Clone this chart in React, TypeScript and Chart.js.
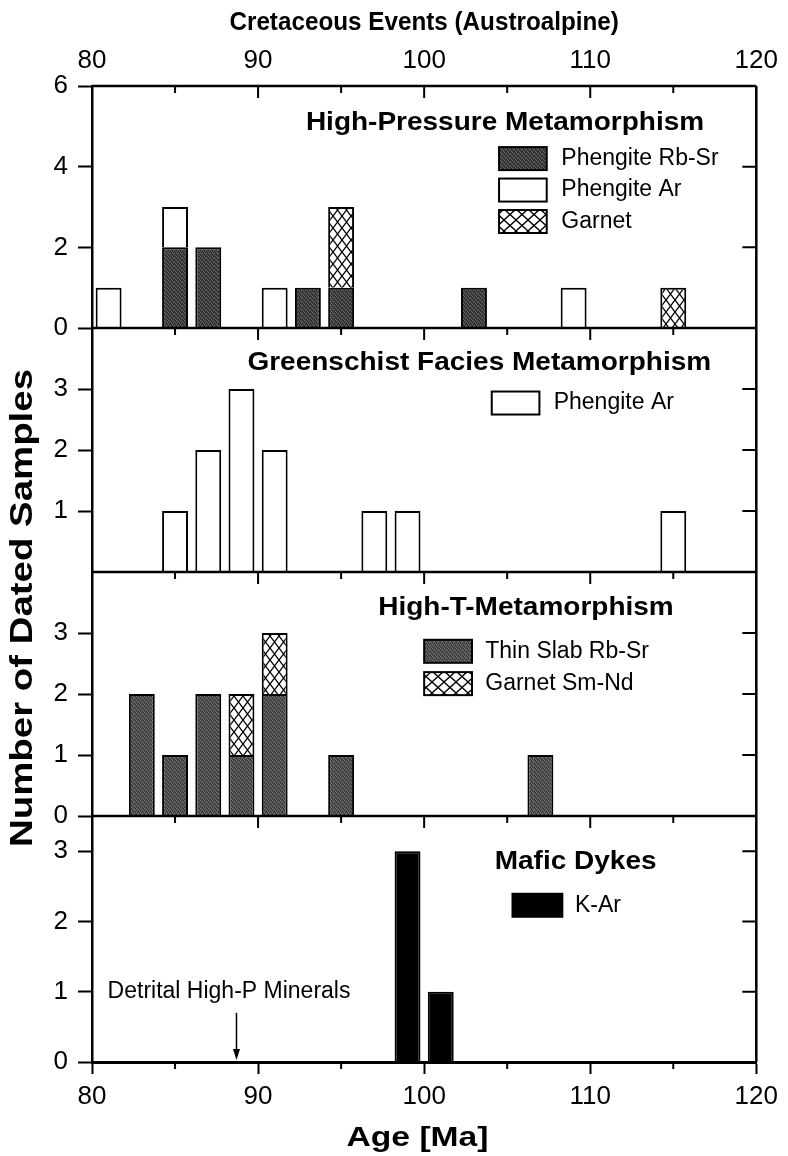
import React, { useEffect, useRef } from 'react';
import { Chart, registerables } from 'chart.js';

Chart.register(...registerables);

// ---------- data ----------
const X_TICKS = [80, 90, 100, 110, 120];

// Panel 1: High-Pressure Metamorphism
const HP_RBSR_AGES = [85, 87, 93, 95, 103];
const HP_RBSR_COUNTS = [2, 2, 1, 1, 1];
const HP_AR_AGES = [81, 85, 91, 109];
const HP_AR_COUNTS = [1, 1, 1, 1];
const HP_GRT_AGES = [95, 115];
const HP_GRT_COUNTS = [2, 1];

// Panel 2: Greenschist Facies Metamorphism
const GS_AR_AGES = [85, 87, 89, 91, 97, 99, 115];
const GS_AR_COUNTS = [1, 2, 3, 2, 1, 1, 1];

// Panel 3: High-T-Metamorphism
const HT_RBSR_AGES = [83, 85, 87, 89, 91, 95, 107];
const HT_RBSR_COUNTS = [2, 1, 2, 1, 2, 1, 1];
const HT_GRT_AGES = [89, 91];
const HT_GRT_COUNTS = [1, 1];

// Panel 4: Mafic Dykes
const MD_KAR_AGES = [99, 101];
const MD_KAR_COUNTS = [3, 1];

const DETRITAL_AGE = 88.7;

const Y1_TICKS = [0, 2, 4, 6];
const Y2_TICKS = [1, 2, 3];
const Y3_TICKS = [0, 1, 2, 3];
const Y4_TICKS = [0, 1, 2, 3];

const FONT = "'Liberation Sans', Arial, Helvetica, sans-serif";

const pts = (ages: number[], counts: number[]) => ages.map((a, i) => ({ x: a, y: counts[i] }));

function makeGrain(ctx: CanvasRenderingContext2D, base: string, light: string, dark: string) {
  const c = document.createElement('canvas');
  c.width = 4; c.height = 4;
  const g = c.getContext('2d')!;
  g.fillStyle = base; g.fillRect(0, 0, 4, 4);
  g.fillStyle = light;
  [[0, 0], [2, 1], [1, 2], [3, 3]].forEach(([x, y]) => g.fillRect(x, y, 1, 1));
  g.fillStyle = dark;
  [[2, 3], [0, 2], [3, 0]].forEach(([x, y]) => g.fillRect(x, y, 1, 1));
  return ctx.createPattern(c, 'repeat')!;
}

function makeHatch(ctx: CanvasRenderingContext2D, w: number, h: number) {
  const c = document.createElement('canvas');
  c.width = w; c.height = h;
  const g = c.getContext('2d')!;
  g.fillStyle = '#fff'; g.fillRect(0, 0, w, h);
  g.strokeStyle = '#000'; g.lineWidth = 1.3;
  g.beginPath();
  g.moveTo(-w * 0.2, -h * 0.2); g.lineTo(w * 1.2, h * 1.2);
  g.moveTo(w * 1.2, -h * 0.2); g.lineTo(-w * 0.2, h * 1.2);
  g.stroke();
  return ctx.createPattern(c, 'repeat')!;
}

function sText(ctx: CanvasRenderingContext2D, text: string, x: number, y: number, font: string,
  sx = 1, align: CanvasTextAlign = 'center', rot = 0) {
  ctx.save();
  ctx.translate(x, y);
  if (rot) ctx.rotate(rot);
  ctx.scale(sx, 1);
  ctx.font = font;
  ctx.textAlign = align;
  ctx.textBaseline = 'middle';
  ctx.fillStyle = '#000';
  ctx.fillText(text, 0, 0);
  ctx.restore();
}

export default function App() {
  const ref = useRef<HTMLCanvasElement>(null);

  useEffect(() => {
    const canvas = ref.current!;
    const ctx = canvas.getContext('2d')!;
    const grainDark = makeGrain(ctx, '#3c3c3c', '#6a6a6a', '#222');
    const grainMid = makeGrain(ctx, '#4c4c4c', '#767676', '#2e2e2e');
    const hatch = makeHatch(ctx, 9, 12);
    const hatchLeg = makeHatch(ctx, 12, 11);

    const barBase = {
      borderColor: '#000',
      borderWidth: 2,
      barPercentage: 0.78,
      categoryPercentage: 1,
      xAxisID: 'x',
    };

    const yAxis = (min: number, max: number, ticks: number[], weight: number, sw: number) => ({
      type: 'linear' as const,
      position: 'left' as const,
      stack: 'panels',
      stackWeight: sw,
      weight,
      stacked: true,
      min, max,
      afterBuildTicks: (s: any) => { s.ticks = ticks.map(v => ({ value: v })); },
      afterFit: (s: any) => { s.width = 92; },
      grid: { drawOnChartArea: false, drawTicks: true, tickLength: 14, tickWidth: 2, tickColor: '#000', color: '#000' },
      border: { display: true, color: '#000', width: 2.5 },
      ticks: { font: { family: FONT, size: 26 }, color: '#000', padding: 10 },
    });

    const annot = {
      id: 'annot',
      afterDraw(chart: any) {
        const c: CanvasRenderingContext2D = chart.ctx;
        const xs = chart.scales.x;
        const area = chart.chartArea;
        const Y = [chart.scales.y1, chart.scales.y2, chart.scales.y3, chart.scales.y4];
        const X = (v: number) => xs.getPixelForValue(v);
        c.save();
        c.strokeStyle = '#000';
        c.lineWidth = 2.5;
        c.beginPath();
        c.moveTo(area.left, area.top); c.lineTo(area.right, area.top);
        c.moveTo(area.right, area.top); c.lineTo(area.right, area.bottom);
        for (const ys of Y.slice(1)) { c.moveTo(area.left, ys.top); c.lineTo(area.right, ys.top); }
        c.stroke();

        c.lineWidth = 2;
        c.beginPath();
        for (const ys of Y) {
          for (let v = 85; v < 120; v += 5) {
            const len = v % 10 === 0 ? 12 : 7;
            c.moveTo(X(v), ys.top); c.lineTo(X(v), ys.top + len);
          }
          for (const t of ys.ticks) {
            if (t.value <= ys.min || t.value >= ys.max) continue;
            const py = ys.getPixelForValue(t.value);
            c.moveTo(area.right, py); c.lineTo(area.right - 14, py);
          }
        }
        for (let v = 85; v < 120; v += 10) { c.moveTo(X(v), area.bottom); c.lineTo(X(v), area.bottom + 7); }
        c.stroke();

        // panel titles
        const tFont = `bold 25px ${FONT}`;
        sText(c, 'High-Pressure Metamorphism', X(104.87), Y[0].getPixelForValue(5.08), tFont, 1.12);
        sText(c, 'Greenschist Facies Metamorphism', X(103.32), Y[1].getPixelForValue(3.43), tFont, 1.12);
        sText(c, 'High-T-Metamorphism', X(106.13), Y[2].getPixelForValue(3.41), tFont, 1.12);
        sText(c, 'Mafic Dykes', X(109.12), Y[3].getPixelForValue(2.85), tFont, 1.12);

        // legends
        const lFont = `23px ${FONT}`;
        const box = (x0: number, x1: number, ys: any, yv: number, fill: any, label: string, tx: number) => {
          const yc = ys.getPixelForValue(yv);
          const a = X(x0), b = X(x1);
          c.fillStyle = fill;
          c.fillRect(a, yc - 11.5, b - a, 23);
          c.lineWidth = 2;
          c.strokeStyle = '#000';
          c.strokeRect(a, yc - 11.5, b - a, 23);
          sText(c, label, X(tx), yc, lFont, 1, 'left');
        };
        box(104.51, 107.38, Y[0], 4.2, grainDark, 'Phengite Rb-Sr', 108.26);
        box(104.51, 107.38, Y[0], 3.42, '#fff', 'Phengite Ar', 108.26);
        box(104.51, 107.38, Y[0], 2.64, hatchLeg, 'Garnet', 108.26);
        box(104.07, 106.94, Y[1], 2.77, '#fff', 'Phengite Ar', 107.8);
        box(100.0, 102.88, Y[2], 2.7, grainMid, 'Thin Slab Rb-Sr', 103.68);
        box(100.0, 102.88, Y[2], 2.17, hatchLeg, 'Garnet Sm-Nd', 103.68);
        box(105.32, 108.32, Y[3], 2.23, '#000', 'K-Ar', 109.08);

        // detrital annotation
        sText(c, 'Detrital High-P Minerals', X(80.94), Y[3].getPixelForValue(1.0), lFont, 1, 'left');
        const ax = X(DETRITAL_AGE);
        const ay0 = Y[3].getPixelForValue(0.7);
        const ay1 = Y[3].getPixelForValue(0) - 2;
        c.lineWidth = 1.5;
        c.beginPath(); c.moveTo(ax, ay0); c.lineTo(ax, ay1 - 8); c.stroke();
        c.fillStyle = '#000';
        c.beginPath(); c.moveTo(ax - 3.5, ay1 - 11); c.lineTo(ax + 3.5, ay1 - 11); c.lineTo(ax, ay1); c.closePath(); c.fill();

        // axis titles
        sText(c, 'Cretaceous Events (Austroalpine)', X(100), 23, `bold 25px ${FONT}`, 0.97);
        sText(c, 'Age [Ma]', X(99.6), area.bottom + 76, `bold 28px ${FONT}`, 1.2);
        sText(c, 'Number of Dated Samples', 23, 608, `bold 32px ${FONT}`, 1.2, 'center', -Math.PI / 2);
        c.restore();
      },
    };

    const chart = new Chart(canvas, {
      type: 'bar',
      data: {
        datasets: [
          { ...barBase, label: 'Phengite Rb-Sr', yAxisID: 'y1', data: pts(HP_RBSR_AGES, HP_RBSR_COUNTS), backgroundColor: grainDark },
          { ...barBase, label: 'Phengite Ar', yAxisID: 'y1', data: pts(HP_AR_AGES, HP_AR_COUNTS), backgroundColor: '#fff' },
          { ...barBase, label: 'Garnet', yAxisID: 'y1', data: pts(HP_GRT_AGES, HP_GRT_COUNTS), backgroundColor: hatch },
          { ...barBase, label: 'Phengite Ar (GS)', yAxisID: 'y2', data: pts(GS_AR_AGES, GS_AR_COUNTS), backgroundColor: '#fff' },
          { ...barBase, label: 'Thin Slab Rb-Sr', yAxisID: 'y3', data: pts(HT_RBSR_AGES, HT_RBSR_COUNTS), backgroundColor: grainMid },
          { ...barBase, label: 'Garnet Sm-Nd', yAxisID: 'y3', data: pts(HT_GRT_AGES, HT_GRT_COUNTS), backgroundColor: hatch },
          { ...barBase, label: 'K-Ar', yAxisID: 'y4', data: pts(MD_KAR_AGES, MD_KAR_COUNTS), backgroundColor: '#000' },
        ] as any,
      },
      options: {
        responsive: false,
        animation: false,
        events: [],
        layout: { padding: { top: 0, bottom: 0, left: 0, right: 27 } },
        plugins: { legend: { display: false }, tooltip: { enabled: false }, title: { display: false } },
        scales: {
          x: {
            type: 'linear', position: 'bottom', min: 80, max: 120, stacked: true, offset: false,
            afterBuildTicks: (s: any) => { s.ticks = X_TICKS.map(v => ({ value: v })); },
            afterFit: (s: any) => { s.height = 94; },
            grid: { drawOnChartArea: false, drawTicks: true, tickLength: 12, tickWidth: 2, tickColor: '#000', offset: false },
            border: { display: true, color: '#000', width: 3 },
            ticks: { font: { family: FONT, size: 26 }, color: '#000', padding: 7, maxRotation: 0, autoSkip: false },
          },
          x2: {
            type: 'linear', position: 'top', min: 80, max: 120, offset: false,
            afterBuildTicks: (s: any) => { s.ticks = X_TICKS.map(v => ({ value: v })); },
            afterFit: (s: any) => { s.height = 86; },
            grid: { display: false, drawTicks: false, drawOnChartArea: false, offset: false },
            border: { display: false },
            ticks: { font: { family: FONT, size: 26 }, color: '#000', padding: 10, maxRotation: 0, autoSkip: false },
          },
          y1: yAxis(0, 6, Y1_TICKS, 4, 242),
          y2: yAxis(0, 4, Y2_TICKS, 3, 244),
          y3: yAxis(0, 4, Y3_TICKS, 2, 244),
          y4: yAxis(0, 3.5, Y4_TICKS, 1, 246),
        } as any,
      },
      plugins: [annot],
    });
    return () => chart.destroy();
  }, []);

  return (
    <div style={{ position: 'absolute', left: 0, top: 0, width: 788, height: 1156, background: '#fff' }}>
      <canvas ref={ref} width={788} height={1156} style={{ display: 'block', width: 788, height: 1156 }} />
    </div>
  );
}
